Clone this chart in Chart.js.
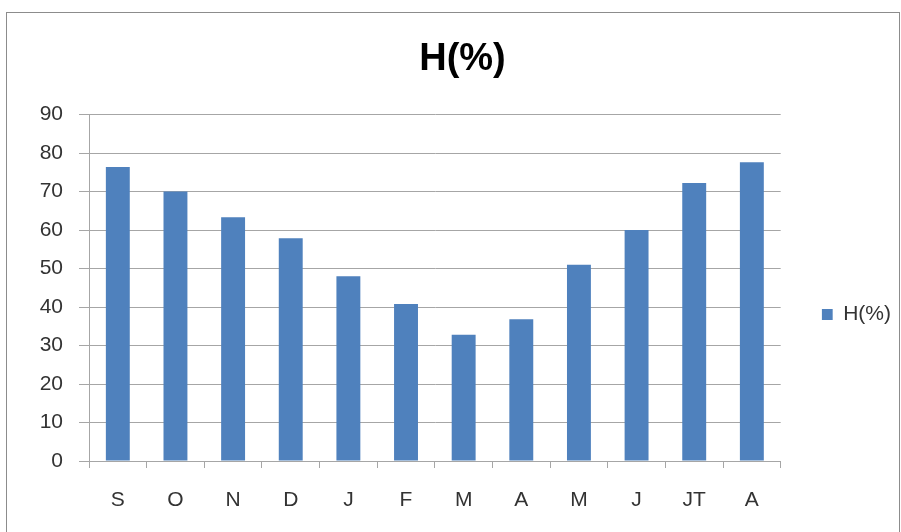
<!DOCTYPE html>
<html>
<head>
<meta charset="utf-8">
<script src="https://cdn.jsdelivr.net/npm/chart.js@4/dist/chart.umd.min.js"></script>
<style>
  html, body { margin: 0; padding: 0; background: #fff; }
  #wrap { position: relative; width: 901px; height: 532px; overflow: hidden; }
  #frame { position: absolute; left: 6px; top: 12px; width: 892px; height: 600px;
           border: 1px solid #8c8c8c; pointer-events: none; }
  canvas { position: absolute; left: 0; top: 0; }
</style>
</head>
<body>
<div id="wrap">
  <canvas id="c" width="901" height="532"></canvas>
  <div id="frame"></div>
</div>
<script>
// Monthly humidity, September through August
const months = ['S', 'O', 'N', 'D', 'J', 'F', 'M', 'A', 'M', 'J', 'JT', 'A'];
const humidity = [76.4, 70.0, 63.3, 57.9, 48.0, 40.8, 32.8, 36.8, 51.0, 60.0, 72.2, 77.6];
const seriesName = 'H(%)';
const yTicks = [0, 10, 20, 30, 40, 50, 60, 70, 80, 90];

const font = "'Liberation Sans', Arial, sans-serif";
const gridColor = '#a6a6a6';
const textColor = '#333';

new Chart(document.getElementById('c'), {
  type: 'bar',
  data: {
    labels: months,
    datasets: [{
      label: seriesName,
      data: humidity,
      backgroundColor: '#4f81bd',
      borderWidth: 0,
      categoryPercentage: 1,
      barPercentage: 0.415
    }]
  },
  options: {
    responsive: false,
    animation: false,
    layout: { padding: { left: 24, right: 0, top: 37, bottom: 19 } },
    plugins: {
      title: {
        display: true,
        text: 'H(%)',
        color: '#000',
        font: { family: font, size: 38, weight: 'bold' },
        padding: { top: 0, bottom: 32 }
      },
      legend: {
        position: 'right',
        // empty heading only lowers the single legend entry
        title: { display: true, text: ' ', font: { size: 10 }, padding: { top: 67, bottom: 0 } },
        labels: {
          boxWidth: 11,
          boxHeight: 11,
          color: textColor,
          font: { family: font, size: 21 },
          padding: 0
        }
      },
      tooltip: { enabled: false }
    },
    scales: {
      x: {
        offset: true,
        grid: {
          display: true,
          offset: true,
          drawOnChartArea: false,
          drawTicks: true,
          tickLength: 7,
          color: gridColor
        },
        border: { color: gridColor, width: 1 },
        ticks: {
          color: textColor,
          font: { family: font, size: 21 },
          padding: 20
        },
        afterFit: (axis) => { axis.height = 52; }
      },
      y: {
        min: 0,
        max: 90,
        afterBuildTicks: (axis) => { axis.ticks = yTicks.map(v => ({ value: v })); },
        grid: {
          color: gridColor,
          lineWidth: 1,
          drawTicks: true,
          tickLength: 10
        },
        border: { color: gridColor, width: 1 },
        ticks: {
          color: textColor,
          font: { family: font, size: 21 },
          padding: 16
        },
        afterFit: (axis) => { axis.width = 65; }
      },
      // empty right-hand axis: keeps a gap between the plot and the legend
      gap: {
        type: 'linear',
        position: 'right',
        display: true,
        grid: { display: false, drawTicks: false },
        border: { display: false },
        ticks: { display: false },
        afterFit: (axis) => { axis.width = 41; }
      }
    }
  }
});
</script>
</body>
</html>
